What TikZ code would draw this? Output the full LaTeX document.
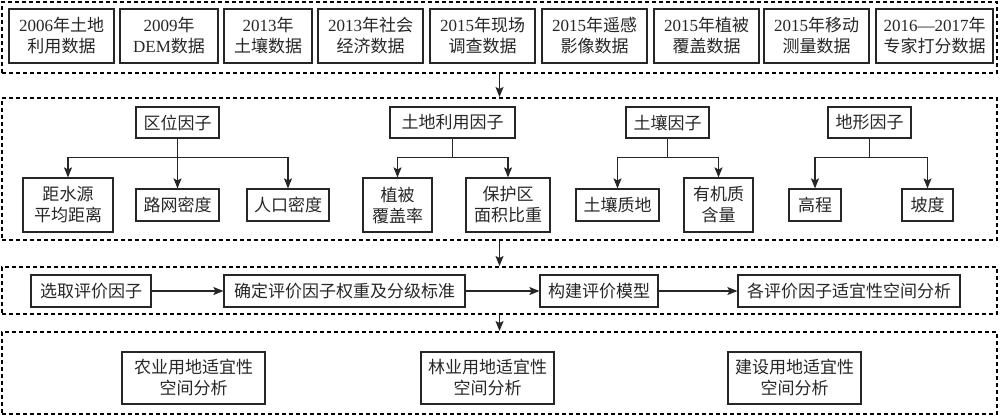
\documentclass[tikz,border=0pt]{standalone}
\usepackage{fontspec}
\setmainfont{Noto Sans CJK SC}
\newfontfamily\lat{Liberation Serif}
\usetikzlibrary{arrows.meta}
\newcommand{\LT}[1]{{\lat #1}}
\begin{document}
\begin{tikzpicture}[x=1pt,y=-1pt,
  bx/.style={draw=black!85,line width=1.2pt,inner sep=0pt,align=center,text=black!85,
     font=\fontsize{17}{21}\selectfont},
  frame/.style={draw=black,line width=2pt,dash pattern=on 4pt off 3pt,inner sep=0pt},
  arr/.style={draw=black!85,line width=1.2pt,-{Stealth[length=10pt,width=8pt,inset=2pt]}}]
\useasboundingbox (0,0) rectangle (1000,416);
% frames
\node[frame,minimum width=995,minimum height=71] (f1) at (499.5,37.5) {};
\node[frame,minimum width=995,minimum height=142] (f2) at (499.5,169) {};
\node[frame,minimum width=995,minimum height=47] (f3) at (499.5,290.5) {};
\node[frame,minimum width=995,minimum height=82] (f4) at (499.5,373) {};
% data row
\node[bx,minimum width=105,minimum height=54] (d1) at (61.5,36) {\LT{2006}年土地\\利用数据};
\node[bx,minimum width=98,minimum height=54] (d2) at (169,36) {\LT{2009}年\\\LT{DEM}数据};
\node[bx,minimum width=88,minimum height=54] (d3) at (268,36) {\LT{2013}年\\土壤数据};
\node[bx,minimum width=105,minimum height=54] (d4) at (370.5,36) {\LT{2013}年社会\\经济数据};
\node[bx,minimum width=105,minimum height=54] (d5) at (482.5,36) {\LT{2015}年现场\\调查数据};
\node[bx,minimum width=105,minimum height=54] (d6) at (594.5,36) {\LT{2015}年遥感\\影像数据};
\node[bx,minimum width=105,minimum height=54] (d7) at (706.5,36) {\LT{2015}年植被\\覆盖数据};
\node[bx,minimum width=105,minimum height=54] (d8) at (816.5,36) {\LT{2015}年移动\\测量数据};
\node[bx,minimum width=117,minimum height=54] (d9) at (934.5,36) {\LT{2016—2017}年\\专家打分数据};
% factors
\node[bx,minimum width=83,minimum height=31] (p1) at (177.5,122.5) {区位因子};
\node[bx,minimum width=125,minimum height=31] (p2) at (452.5,122.5) {土地利用因子};
\node[bx,minimum width=83,minimum height=31] (p3) at (667.5,122.5) {土壤因子};
\node[bx,minimum width=83,minimum height=31] (p4) at (869.5,122.5) {地形因子};
% leaves
\node[bx,minimum width=90,minimum height=54] (c1) at (68,205) {距水源\\平均距离};
\node[bx,minimum width=83,minimum height=32] (c2) at (177.5,205) {路网密度};
\node[bx,minimum width=82,minimum height=32] (c3) at (288,205) {人口密度};
\node[bx,minimum width=69,minimum height=54] (c4) at (397.5,205) {植被\\覆盖率};
\node[bx,minimum width=84,minimum height=54] (c5) at (508,205) {保护区\\面积比重};
\node[bx,minimum width=83,minimum height=32] (c6) at (617.5,205) {土壤质地};
\node[bx,minimum width=69,minimum height=54] (c7) at (718.5,205) {有机质\\含量};
\node[bx,minimum width=52,minimum height=32] (c8) at (815,205) {高程};
\node[bx,minimum width=51,minimum height=32] (c9) at (927.5,205) {坡度};
% factor connectors
\foreach \p/\c in {p1/c1,p1/c2,p1/c3,p2/c4,p2/c5,p3/c6,p3/c7,p4/c8,p4/c9}
  \draw[arr] (\p.south) -- ++(0,18.5) -| (\c.north);
% process row
\node[bx,minimum width=120,minimum height=32] (s1) at (91,291) {选取评价因子};
\node[bx,minimum width=241,minimum height=32] (s2) at (344.5,291) {确定评价因子权重及分级标准};
\node[bx,minimum width=118,minimum height=32] (s3) at (599,291) {构建评价模型};
\node[bx,minimum width=222,minimum height=32] (s4) at (849,291) {各评价因子适宜性空间分析};
\draw[arr] (s1) -- (s2);
\draw[arr] (s2) -- (s3);
\draw[arr] (s3) -- (s4);
% results
\node[bx,minimum width=143,minimum height=52] (a1) at (193.5,378) {农业用地适宜性\\空间分析};
\node[bx,minimum width=133,minimum height=52] (a2) at (487.5,378) {林业用地适宜性\\空间分析};
\node[bx,minimum width=133,minimum height=52] (a3) at (794.5,378) {建设用地适宜性\\空间分析};
% frame arrows
\draw[arr] (f1.south) -- (f2.north);
\draw[arr] (f2.south) -- (f3.north);
\draw[arr] (f3.south) -- (f4.north);
\end{tikzpicture}
\end{document}
